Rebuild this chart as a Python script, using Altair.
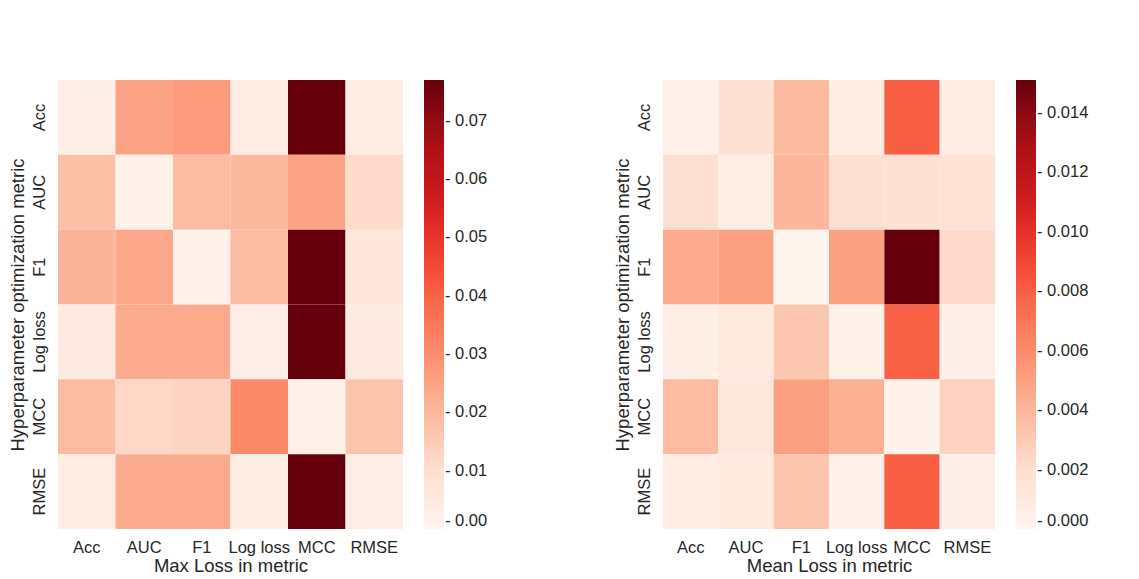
import altair as alt
import pandas as pd

metrics = ["Acc", "AUC", "F1", "Log loss", "MCC", "RMSE"]

# Max loss (rows: hyperparameter optimization metric, columns: metric evaluated)
max_acc = [0.003, 0.025, 0.027, 0.004, 0.077, 0.004]
max_auc = [0.018, 0.002, 0.019, 0.020, 0.025, 0.011]
max_f1 = [0.021, 0.024, 0.002, 0.019, 0.077, 0.007]
max_logloss = [0.005, 0.023, 0.023, 0.003, 0.077, 0.005]
max_mcc = [0.019, 0.012, 0.013, 0.031, 0.002, 0.017]
max_rmse = [0.004, 0.023, 0.023, 0.004, 0.077, 0.003]

# Mean loss
mean_acc = [0.0004, 0.0018, 0.0038, 0.0008, 0.0080, 0.0008]
mean_auc = [0.0019, 0.0006, 0.0040, 0.0019, 0.0018, 0.0017]
mean_f1 = [0.0045, 0.0050, 0.0002, 0.0050, 0.0151, 0.0022]
mean_logloss = [0.0006, 0.0011, 0.0032, 0.0003, 0.0079, 0.0005]
mean_mcc = [0.0037, 0.0012, 0.0050, 0.0043, 0.0003, 0.0026]
mean_rmse = [0.0007, 0.0011, 0.0033, 0.0004, 0.0080, 0.0005]

max_ticks = [0.0, 0.01, 0.02, 0.03, 0.04, 0.05, 0.06, 0.07]
mean_ticks = [0.0, 0.002, 0.004, 0.006, 0.008, 0.010, 0.012, 0.014]

# matplotlib "Reds" colour stops
reds = ["#fff5f0", "#fee0d2", "#fcbba1", "#fc9272", "#fb6a4a",
        "#ef3b2c", "#cb181d", "#a50f15", "#67000d"]


def long_df(rows):
    recs = []
    for opt, vals in zip(metrics, rows):
        for ev, v in zip(metrics, vals):
            recs.append({"opt": opt, "eval": ev, "value": v})
    return pd.DataFrame(recs)


df_max = long_df([max_acc, max_auc, max_f1, max_logloss, max_mcc, max_rmse])
df_mean = long_df([mean_acc, mean_auc, mean_f1, mean_logloss, mean_mcc, mean_rmse])

TEXT = "#262626"


def heat(df, xtitle, width, vmax, ticks, fmt):
    n = len(reds) - 1
    dom = [vmax * i / n for i in range(n + 1)]
    return alt.Chart(df).mark_rect().encode(
        x=alt.X("eval:N", sort=metrics, title=xtitle,
                axis=alt.Axis(labelAngle=0, ticks=False, domain=False,
                              labelPadding=10, titlePadding=1,
                              labelFontSize=16.5, titleFontSize=18.5)),
        y=alt.Y("opt:N", sort=metrics, title="Hyperparameter optimization metric",
                axis=alt.Axis(labelAngle=-90, ticks=False, domain=False,
                              labelPadding=11, titlePadding=4,
                              labelFontSize=16.5, titleFontSize=18.5)),
        color=alt.Color("value:Q",
                        scale=alt.Scale(domain=dom, range=reds, interpolate="rgb"),
                        legend=alt.Legend(
                            title=None, orient="right", direction="vertical",
                            gradientLength=449, gradientThickness=20,
                            gradientStrokeWidth=0, offset=21,
                            values=ticks, labelFontSize=16.5, labelColor=TEXT,
                            labelBaseline="middle", labelOffset=1,
                            labelOverlap=False,
                            labelExpr="'- ' + format(datum.value, '" + fmt + "')")),
    ).properties(width=width, height=449)


left = heat(df_max, "Max Loss in metric", 345, 0.077, max_ticks, ".2f")
right = heat(df_mean, "Mean Loss in metric", 332, 0.0151, mean_ticks, ".3f")

chart = alt.hconcat(left, right, spacing=125).resolve_scale(
    color="independent"
).properties(
    padding={"left": 0, "top": 72, "right": 5, "bottom": 5}
).configure(
    font="Liberation Sans"
).configure_view(
    stroke=None
).configure_axis(
    labelColor=TEXT, titleColor=TEXT, labelFont="Liberation Sans",
    titleFont="Liberation Sans", titleFontWeight="normal", grid=False
).configure_legend(
    labelFont="Liberation Sans"
)

chart.save("out.html", embed_options={"renderer": "svg", "actions": False})
